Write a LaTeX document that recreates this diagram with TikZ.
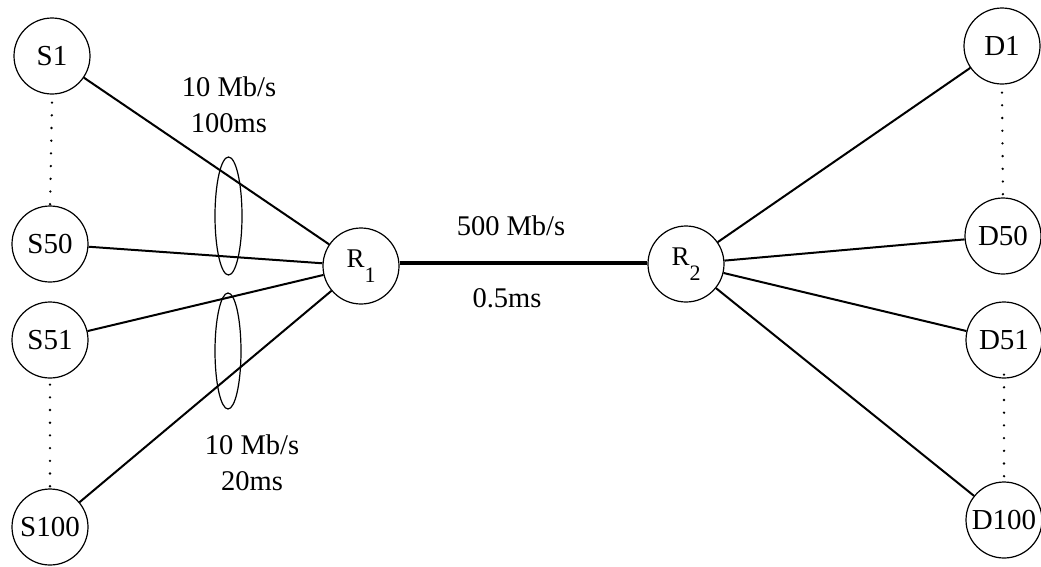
\documentclass[tikz,border=0pt]{standalone}
\usepackage{fontspec}
\setmainfont{Liberation Serif}
\begin{document}
\begin{tikzpicture}[x=1pt,y=-1pt,
  host/.style={circle,draw,line width=1.2pt,minimum size=76pt,inner sep=0pt,font=\fontsize{29}{32}\selectfont},
  router/.style={circle,draw,line width=1.2pt,minimum size=76pt,inner sep=0pt,font=\fontsize{27}{30}\selectfont},
  link/.style={line width=2pt},
  core/.style={line width=4.5pt},
  dots/.style={line width=2.6pt,line cap=round,dash pattern=on 0pt off 12.7pt},
  lbl/.style={font=\fontsize{28.5}{36}\selectfont,align=center,inner sep=0pt},
  grp/.style={line width=1.2pt}]
\useasboundingbox (0,0) rectangle (1041,566);
% hosts
\node[host] (S1) at (52,56) {S1};
\node[host] (S50) at (50,244) {S50};
\node[host] (S51) at (50,340) {S51};
\node[host] (S100) at (50,527) {S100};
\node[host] (D1) at (1002,46) {D1};
\node[host] (D50) at (1003,236) {D50};
\node[host] (D51) at (1004,340) {D51};
\node[host] (D100) at (1004,520) {D100};
% routers
\node[router] (R1) at (361,266) {R\raisebox{-0.55em}{\fontsize{22}{22}\selectfont 1}};
\node[router] (R2) at (686,264) {R\raisebox{-0.55em}{\fontsize{22}{22}\selectfont 2}};
% links
\draw[link] (S1) -- (R1);
\draw[link] (S50) -- (R1);
\draw[link] (S51) -- (R1);
\draw[link] (S100) -- (R1);
\draw[link] (R2) -- (D1);
\draw[link] (R2) -- (D50);
\draw[link] (R2) -- (D51);
\draw[link] (R2) -- (D100);
\draw[core] (R1.east |- 0,263) -- (R2.west |- 0,263);
% dotted continuations
\draw[dots] (S1.south) ++(0,8) -- ([yshift=-4pt]S50.north);
\draw[dots] (S51.south) ++(0,6) -- ([yshift=-4pt]S100.north);
\draw[dots] (D1.south) ++(0,8) -- ([yshift=-4pt]D50.north);
\draw[dots] (D51.south) ++(0,-4) -- ([yshift=-6pt]D100.north);
% grouping ellipses
\draw[grp] (228.5,216) ellipse [x radius=13.5, y radius=59];
\draw[grp] (228,351) ellipse [x radius=13, y radius=58];
% labels
\node[lbl] (l1) at (229,105) {10 Mb/s\\100ms};
\node[lbl] (l2) at (252,463) {10 Mb/s\\20ms};
\node[lbl] (l3) at (511,226) {500 Mb/s};
\node[lbl] (l4) at (507,298) {0.5ms};
\end{tikzpicture}
\end{document}
